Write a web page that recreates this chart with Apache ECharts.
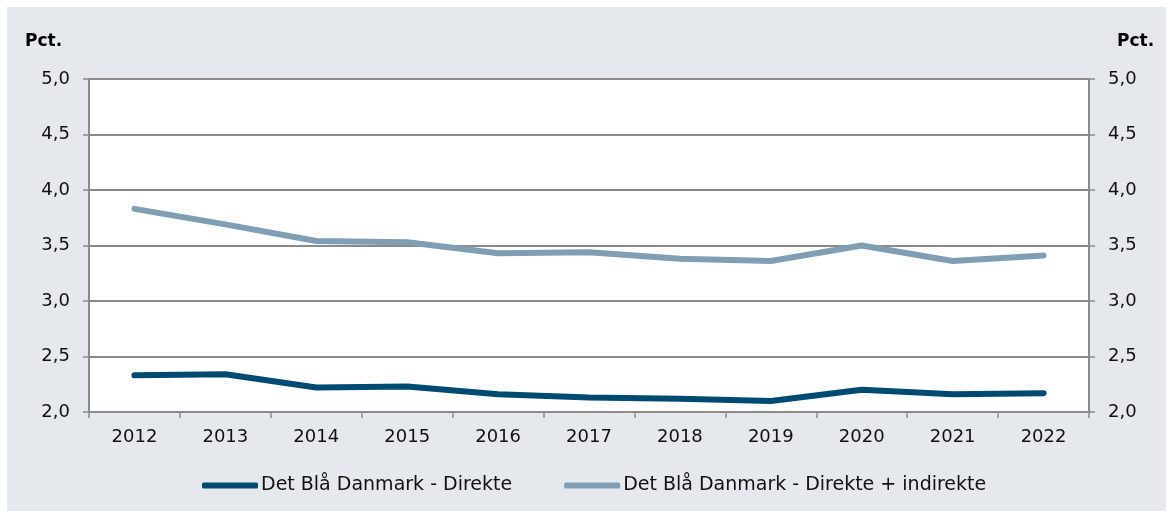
<!DOCTYPE html>
<html><head><meta charset="utf-8">
<script src="https://cdn.jsdelivr.net/npm/echarts@6/dist/echarts.min.js"></script>
<style>html,body{margin:0;padding:0;background:#fff}#c{width:1168px;height:513px}</style>
</head><body><div id="c"></div>
<script>
const categories = ['2012','2013','2014','2015','2016','2017','2018','2019','2020','2021','2022'];
const direkte = [2.33,2.34,2.22,2.23,2.16,2.13,2.12,2.10,2.20,2.16,2.17];
const direkteIndirekte = [3.83,3.69,3.54,3.53,3.43,3.44,3.38,3.36,3.50,3.36,3.41];
const seriesNames = ['Det Blå Danmark - Direkte','Det Blå Danmark - Direkte + indirekte'];
const yUnit = 'Pct.';

const chart = echarts.init(document.getElementById('c'));
const font = 'DejaVu Sans, Verdana, sans-serif';
const fmt = v => v.toFixed(1).replace('.', ',');
const axisGray = '#8a8a8a';
const yAxisBase = {
  type: 'value', min: 2, max: 5, interval: 0.5,
  axisLine: {show: true, lineStyle: {color: axisGray, width: 2}},
  axisTick: {show: true, length: 6, lineStyle: {color: axisGray, width: 1.5}},
  splitLine: {show: true, lineStyle: {color: axisGray, width: 2}},
  axisLabel: {color: '#111', fontFamily: font, fontSize: 18, margin: 19, formatter: fmt}
};
chart.setOption({
  backgroundColor: '#fff',
  textStyle: {fontFamily: font},
  graphic: [
    {type: 'rect', z: -10, silent: true, shape: {x: 7, y: 7, width: 1159, height: 504}, style: {fill: '#e5e9ee'}},
    {type: 'rect', z: -5, silent: true, shape: {x: 89, y: 79, width: 1000, height: 333}, style: {fill: '#ffffff'}},
    {type: 'text', left: 25, top: 33, style: {text: yUnit, font: 'bold 17px ' + font, fill: '#000'}},
    {type: 'text', left: 1117, top: 33, style: {text: yUnit, font: 'bold 17px ' + font, fill: '#000'}}
  ],
  grid: {left: 89, right: 79, top: 79, bottom: 101, containLabel: false},
  xAxis: {
    type: 'category', data: categories, boundaryGap: true,
    axisLine: {show: true, lineStyle: {color: axisGray, width: 2}},
    axisTick: {show: true, length: 6, interval: 0, lineStyle: {color: axisGray, width: 1.5}},
    axisLabel: {color: '#111', fontFamily: font, fontSize: 18, margin: 16, interval: 0}
  },
  yAxis: [
    Object.assign({}, yAxisBase, {position: 'left'}),
    Object.assign({}, yAxisBase, {position: 'right', splitLine: {show: false}})
  ],
  legend: {
    bottom: 13, left: 197, itemGap: 52, itemWidth: 56, itemHeight: 6,
    icon: 'roundRect',
    textStyle: {fontFamily: font, fontSize: 19, color: '#111', padding: [0,0,0,-2]},
    data: seriesNames
  },
  series: [
    {name: seriesNames[0], type: 'line', data: direkte, symbol: 'none', yAxisIndex: 0,
     lineStyle: {width: 6, color: '#004a72', cap: 'round', join: 'round'}, itemStyle: {color: '#004a72'}},
    {name: seriesNames[1], type: 'line', data: direkteIndirekte, symbol: 'none', yAxisIndex: 0,
     lineStyle: {width: 6, color: '#7f9db3', cap: 'round', join: 'round'}, itemStyle: {color: '#7f9db3'}}
  ]
});
</script></body></html>
